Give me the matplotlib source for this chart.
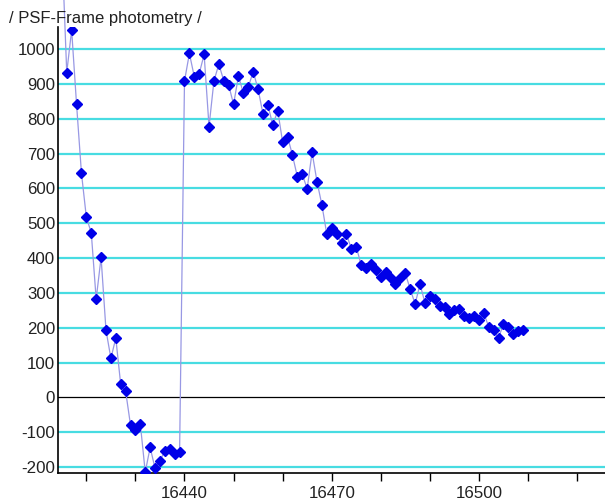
# -*- coding: utf-8 -*-
"""
PSF-frame photometry light curve: flux per night against day number.
"""

import matplotlib
matplotlib.use("Agg")
import matplotlib.pyplot as plt
from matplotlib.ticker import MultipleLocator

# nights (day number) and measured flux
days = list(range(16415, 16510))
flux = [
    1300, 933, 1055, 842, 644, 517, 473, 282, 402, 193,
    112, 170, 37, 18, -80, -94, -77, -215, -144, -204,
    -182, -154, -148, -162, -157,
    909, 988, 921, 930, 985, 778, 909, 957, 910, 897,
    842, 923, 874, 891, 936, 885, 814, 839, 782, 824,
    733, 749, 696, 634, 641, 599, 704, 620, 553, 469,
    486, 469, 444, 469, 427, 433, 380, 371, 382, 366,
    347, 361, 342, 325, 344, 356, 311, 268, 325, 272,
    291, 282, 262, 259, 239, 251, 253, 234, 229, 234,
    222, 241, 203, 193, 170, 211, 203, 182, 191, 193,
]

grid_levels = [-200, -100, 100, 200, 300, 400, 500, 600, 700, 800, 900, 1000]
x_labels = [16440, 16470, 16500]

FONT = ['Liberation Sans', 'DejaVu Sans']


def plot_photometry(days, flux):
    """
    Draw the light curve as a thin line with diamond markers.
    :param days: day numbers
    :param flux: flux values
    """
    fig = plt.figure(figsize=(6.05, 5.04), dpi=100)
    ax = fig.add_axes([58 / 605, 1 - 473 / 504, 1 - 58 / 605, (473 - 27) / 504])

    ax.set_xlim(16414.22, 16525.7)
    ax.set_ylim(-217.5, 1064)

    for level in grid_levels:
        ax.axhline(level, color='#48dce2', lw=1.6, zorder=1)
    ax.axhline(0, color='black', lw=0.9, zorder=1)

    ax.plot(days, flux, color='#9898e4', lw=0.9, zorder=2, clip_on=False)
    ax.plot(days, flux, ls='none', marker='D', ms=4.7, color='#0000e8',
            mec='#0000e8', zorder=3)

    for side in ('top', 'right'):
        ax.spines[side].set_visible(False)
    for side in ('left', 'bottom'):
        ax.spines[side].set_linewidth(1.2)

    ax.set_yticks(list(range(-200, 1001, 100)))
    ax.set_yticklabels([str(v) for v in range(-200, 1001, 100)],
                       family=FONT, fontsize=12.2, color='#222222')
    ax.tick_params(axis='y', length=0, pad=2)

    ax.set_xticks(x_labels)
    ax.set_xticklabels([str(v) for v in x_labels], family=FONT,
                       fontsize=12.2, color='#222222')
    ax.xaxis.set_minor_locator(MultipleLocator(10))
    ax.tick_params(axis='x', which='both', length=6, width=1, pad=3,
                   direction='out')

    fig.text(9 / 605, 1 - 19 / 504, '/ PSF-Frame photometry /', family=FONT,
             fontsize=12.0, color='#222222', va='center', ha='left')

    fig.savefig('out.png', dpi=100, facecolor='white')


if __name__ == "__main__":
    plot_photometry(days, flux)
